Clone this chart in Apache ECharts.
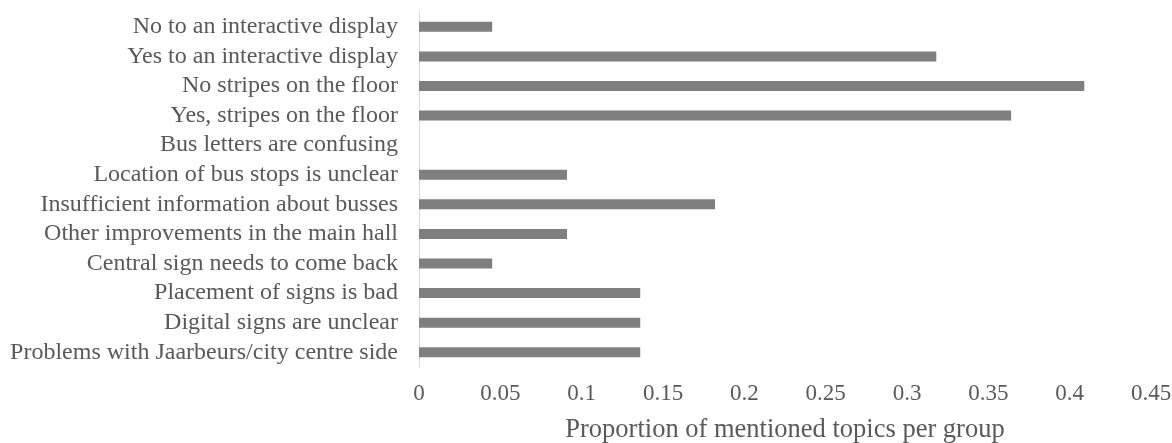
<!DOCTYPE html>
<html>
<head>
<meta charset="utf-8">
<script src="https://cdn.jsdelivr.net/npm/echarts@6/dist/echarts.min.js"></script>
<style>
  html, body { margin: 0; padding: 0; background: #ffffff; }
  #chart { width: 1172px; height: 443px; }
</style>
</head>
<body>
<div id="chart"></div>
<script>
// Topics mentioned by respondents (listed bottom to top on the category axis)
const categories = [
  'Problems with Jaarbeurs/city centre side',
  'Digital signs are unclear',
  'Placement of signs is bad',
  'Central sign needs to come back',
  'Other improvements in the main hall',
  'Insufficient information about busses',
  'Location of bus stops is unclear',
  'Bus letters are confusing',
  'Yes, stripes on the floor',
  'No stripes on the floor',
  'Yes to an interactive display',
  'No to an interactive display'
];

// Proportion of mentioned topics per group
const proportions = [0.136, 0.136, 0.136, 0.045, 0.091, 0.182, 0.091, 0, 0.364, 0.409, 0.318, 0.045];

// Value axis ticks
const xMin = 0;
const xMax = 0.45;
const xStep = 0.05;

const textColor = '#595959';
const fontFamily = '"Liberation Serif", "Times New Roman", serif';

const chart = echarts.init(document.getElementById('chart'), null, { renderer: 'canvas' });

chart.setOption({
  animation: false,
  backgroundColor: '#ffffff',
  grid: { left: 419, right: 21, top: 12, bottom: 76, containLabel: false, outerBoundsMode: 'none' },
  xAxis: {
    type: 'value',
    min: xMin,
    max: xMax,
    interval: xStep,
    name: 'Proportion of mentioned topics per group',
    nameLocation: 'middle',
    nameGap: 50,
    nameTextStyle: { color: textColor, fontFamily: fontFamily, fontSize: 26.5 },
    axisLine: { show: false },
    axisTick: { show: false },
    splitLine: { show: false },
    axisLabel: {
      color: textColor,
      fontFamily: fontFamily,
      fontSize: 23,
      margin: 15,
      formatter: function (v) { return String(Math.round(v * 100) / 100); }
    }
  },
  yAxis: {
    type: 'category',
    data: categories,
    axisLine: { show: true, lineStyle: { color: '#d9d9d9', width: 1 } },
    axisTick: { show: false },
    splitLine: { show: false },
    axisLabel: {
      color: textColor,
      fontFamily: fontFamily,
      fontSize: 24,
      margin: 21,
      interval: 0
    }
  },
  series: [{
    type: 'bar',
    data: proportions,
    barWidth: 10,
    itemStyle: { color: '#7f7f7f' }
  }]
});
</script>
</body>
</html>
